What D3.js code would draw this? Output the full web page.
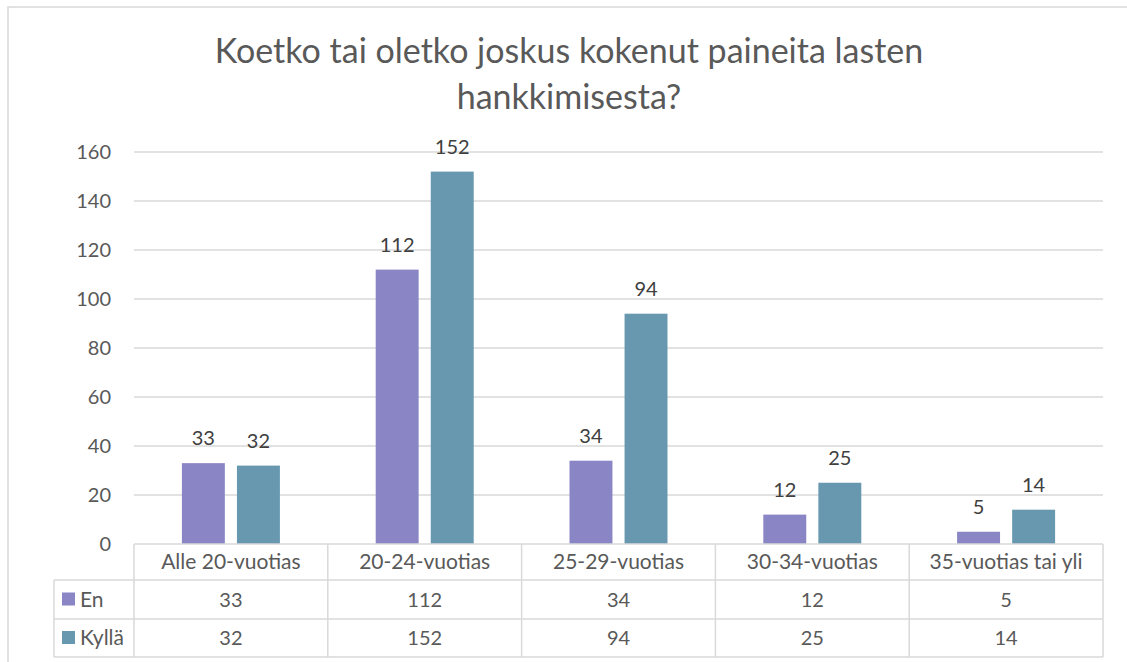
<!DOCTYPE html>
<html>
<head>
<meta charset="utf-8">
<script src="https://cdn.jsdelivr.net/npm/d3@7"></script>
<style>
  body { margin: 0; background: #fff; }
  svg text { font-family: Lato, "Open Sans", sans-serif; }
</style>
</head>
<body>
<div id="chart"></div>
<script>
// data
const categories = ["Alle 20-vuotias", "20-24-vuotias", "25-29-vuotias", "30-34-vuotias", "35-vuotias tai yli"];
const seriesNames = ["En", "Kyllä"];
const enValues = [33, 112, 34, 12, 5];
const kyllaValues = [32, 152, 94, 25, 14];
const yTicks = [0, 20, 40, 60, 80, 100, 120, 140, 160];
const titleLines = ["Koetko tai oletko joskus kokenut paineita lasten", "hankkimisesta?"];

const W = 1127, H = 662;
const colors = { "En": "#8A86C6", "Kyllä": "#6798B0" };
const values = { "En": enValues, "Kyllä": kyllaValues };

const plot = { left: 134, right: 1103, top: 152, bottom: 544 };
const rowLines = [544, 580, 619, 657];
const legendLeft = 54;
const fontSize = "20px";

const svg = d3.select("#chart").append("svg")
    .attr("width", W)
    .attr("height", H);

// moldura do gráfico
svg.append("path")
    .attr("d", `M8,${H} L8,7 L${W},7`)
    .attr("fill", "none")
    .attr("stroke", "#D9D9D9")
    .attr("stroke-width", 1.5);

// título
svg.append("g").selectAll("text")
    .data(titleLines)
    .enter()
    .append("text")
    .attr("x", 569)
    .attr("y", (d, i) => 63 + i * 46)
    .attr("text-anchor", "middle")
    .style("font-size", "34px")
    .style("fill", "#595959")
    .text(d => d);

// escalas
const x0 = d3.scaleBand()
    .domain(categories)
    .range([plot.left, plot.right]);

const x1 = d3.scaleBand()
    .domain(seriesNames)
    .range([0, 98])
    .paddingInner(0.22);

const y = d3.scaleLinear()
    .domain([0, 160])
    .range([plot.bottom, plot.top]);

// grade
svg.append("g").selectAll("line")
    .data(yTicks.filter(t => t > 0))
    .enter()
    .append("line")
    .attr("x1", plot.left)
    .attr("x2", plot.right)
    .attr("y1", d => y(d))
    .attr("y2", d => y(d))
    .attr("stroke", "#D9D9D9")
    .attr("stroke-width", 1.5);

// eixo Y
const yAxis = svg.append("g")
    .attr("transform", `translate(${plot.left}, 0)`)
    .call(d3.axisLeft(y).tickValues(yTicks).tickSize(0).tickPadding(23));
yAxis.select(".domain").remove();
yAxis.selectAll("text")
    .style("font-size", fontSize)
    .style("font-family", "Lato, sans-serif")
    .style("fill", "#595959");

// barras
const bandOffset = (x0.bandwidth() - 98) / 2;
seriesNames.forEach(s => {
    svg.append("g").selectAll("rect")
        .data(categories)
        .enter()
        .append("rect")
        .attr("x", (c) => x0(c) + bandOffset + x1(s))
        .attr("y", (c, i) => y(values[s][i]))
        .attr("width", x1.bandwidth())
        .attr("height", (c, i) => y(0) - y(values[s][i]))
        .attr("fill", colors[s]);

    svg.append("g").selectAll("text")
        .data(categories)
        .enter()
        .append("text")
        .attr("x", c => x0(c) + bandOffset + x1(s) + x1.bandwidth() / 2)
        .attr("y", (c, i) => y(values[s][i]) - 18)
        .attr("text-anchor", "middle")
        .style("font-size", fontSize)
        .style("fill", "#404040")
        .text((c, i) => values[s][i]);
});

// tabela de dados
const table = svg.append("g")
    .attr("stroke", "#D9D9D9")
    .attr("stroke-width", 1.5);

table.append("line")
    .attr("x1", plot.left).attr("x2", plot.right)
    .attr("y1", rowLines[0]).attr("y2", rowLines[0]);
rowLines.slice(1).forEach(ly => {
    table.append("line")
        .attr("x1", legendLeft).attr("x2", plot.right)
        .attr("y1", ly).attr("y2", ly);
});
table.append("line")
    .attr("x1", legendLeft).attr("x2", legendLeft)
    .attr("y1", rowLines[1]).attr("y2", rowLines[3]);
categories.forEach(c => {
    table.append("line")
        .attr("x1", x0(c)).attr("x2", x0(c))
        .attr("y1", rowLines[0]).attr("y2", rowLines[3]);
});
table.append("line")
    .attr("x1", plot.right).attr("x2", plot.right)
    .attr("y1", rowLines[0]).attr("y2", rowLines[3]);

// rótulos das categorias
svg.append("g").selectAll("text")
    .data(categories)
    .enter()
    .append("text")
    .attr("x", c => x0(c) + x0.bandwidth() / 2)
    .attr("y", (rowLines[0] + rowLines[1]) / 2 + 7)
    .attr("text-anchor", "middle")
    .style("font-size", "21px")
    .style("fill", "#595959")
    .text(c => c);

// linhas de séries
seriesNames.forEach((s, r) => {
    const cy = (rowLines[r + 1] + rowLines[r + 2]) / 2;

    svg.append("rect")
        .attr("x", 62)
        .attr("y", cy - 7)
        .attr("width", 13)
        .attr("height", 13)
        .attr("fill", colors[s]);

    svg.append("text")
        .attr("x", 80)
        .attr("y", cy + 7)
        .style("font-size", "21px")
        .style("fill", "#595959")
        .text(s);

    svg.append("g").selectAll("text")
        .data(categories)
        .enter()
        .append("text")
        .attr("x", c => x0(c) + x0.bandwidth() / 2)
        .attr("y", cy + 7)
        .attr("text-anchor", "middle")
        .style("font-size", fontSize)
        .style("fill", "#595959")
        .text((c, i) => values[s][i]);
});
</script>
</body>
</html>
